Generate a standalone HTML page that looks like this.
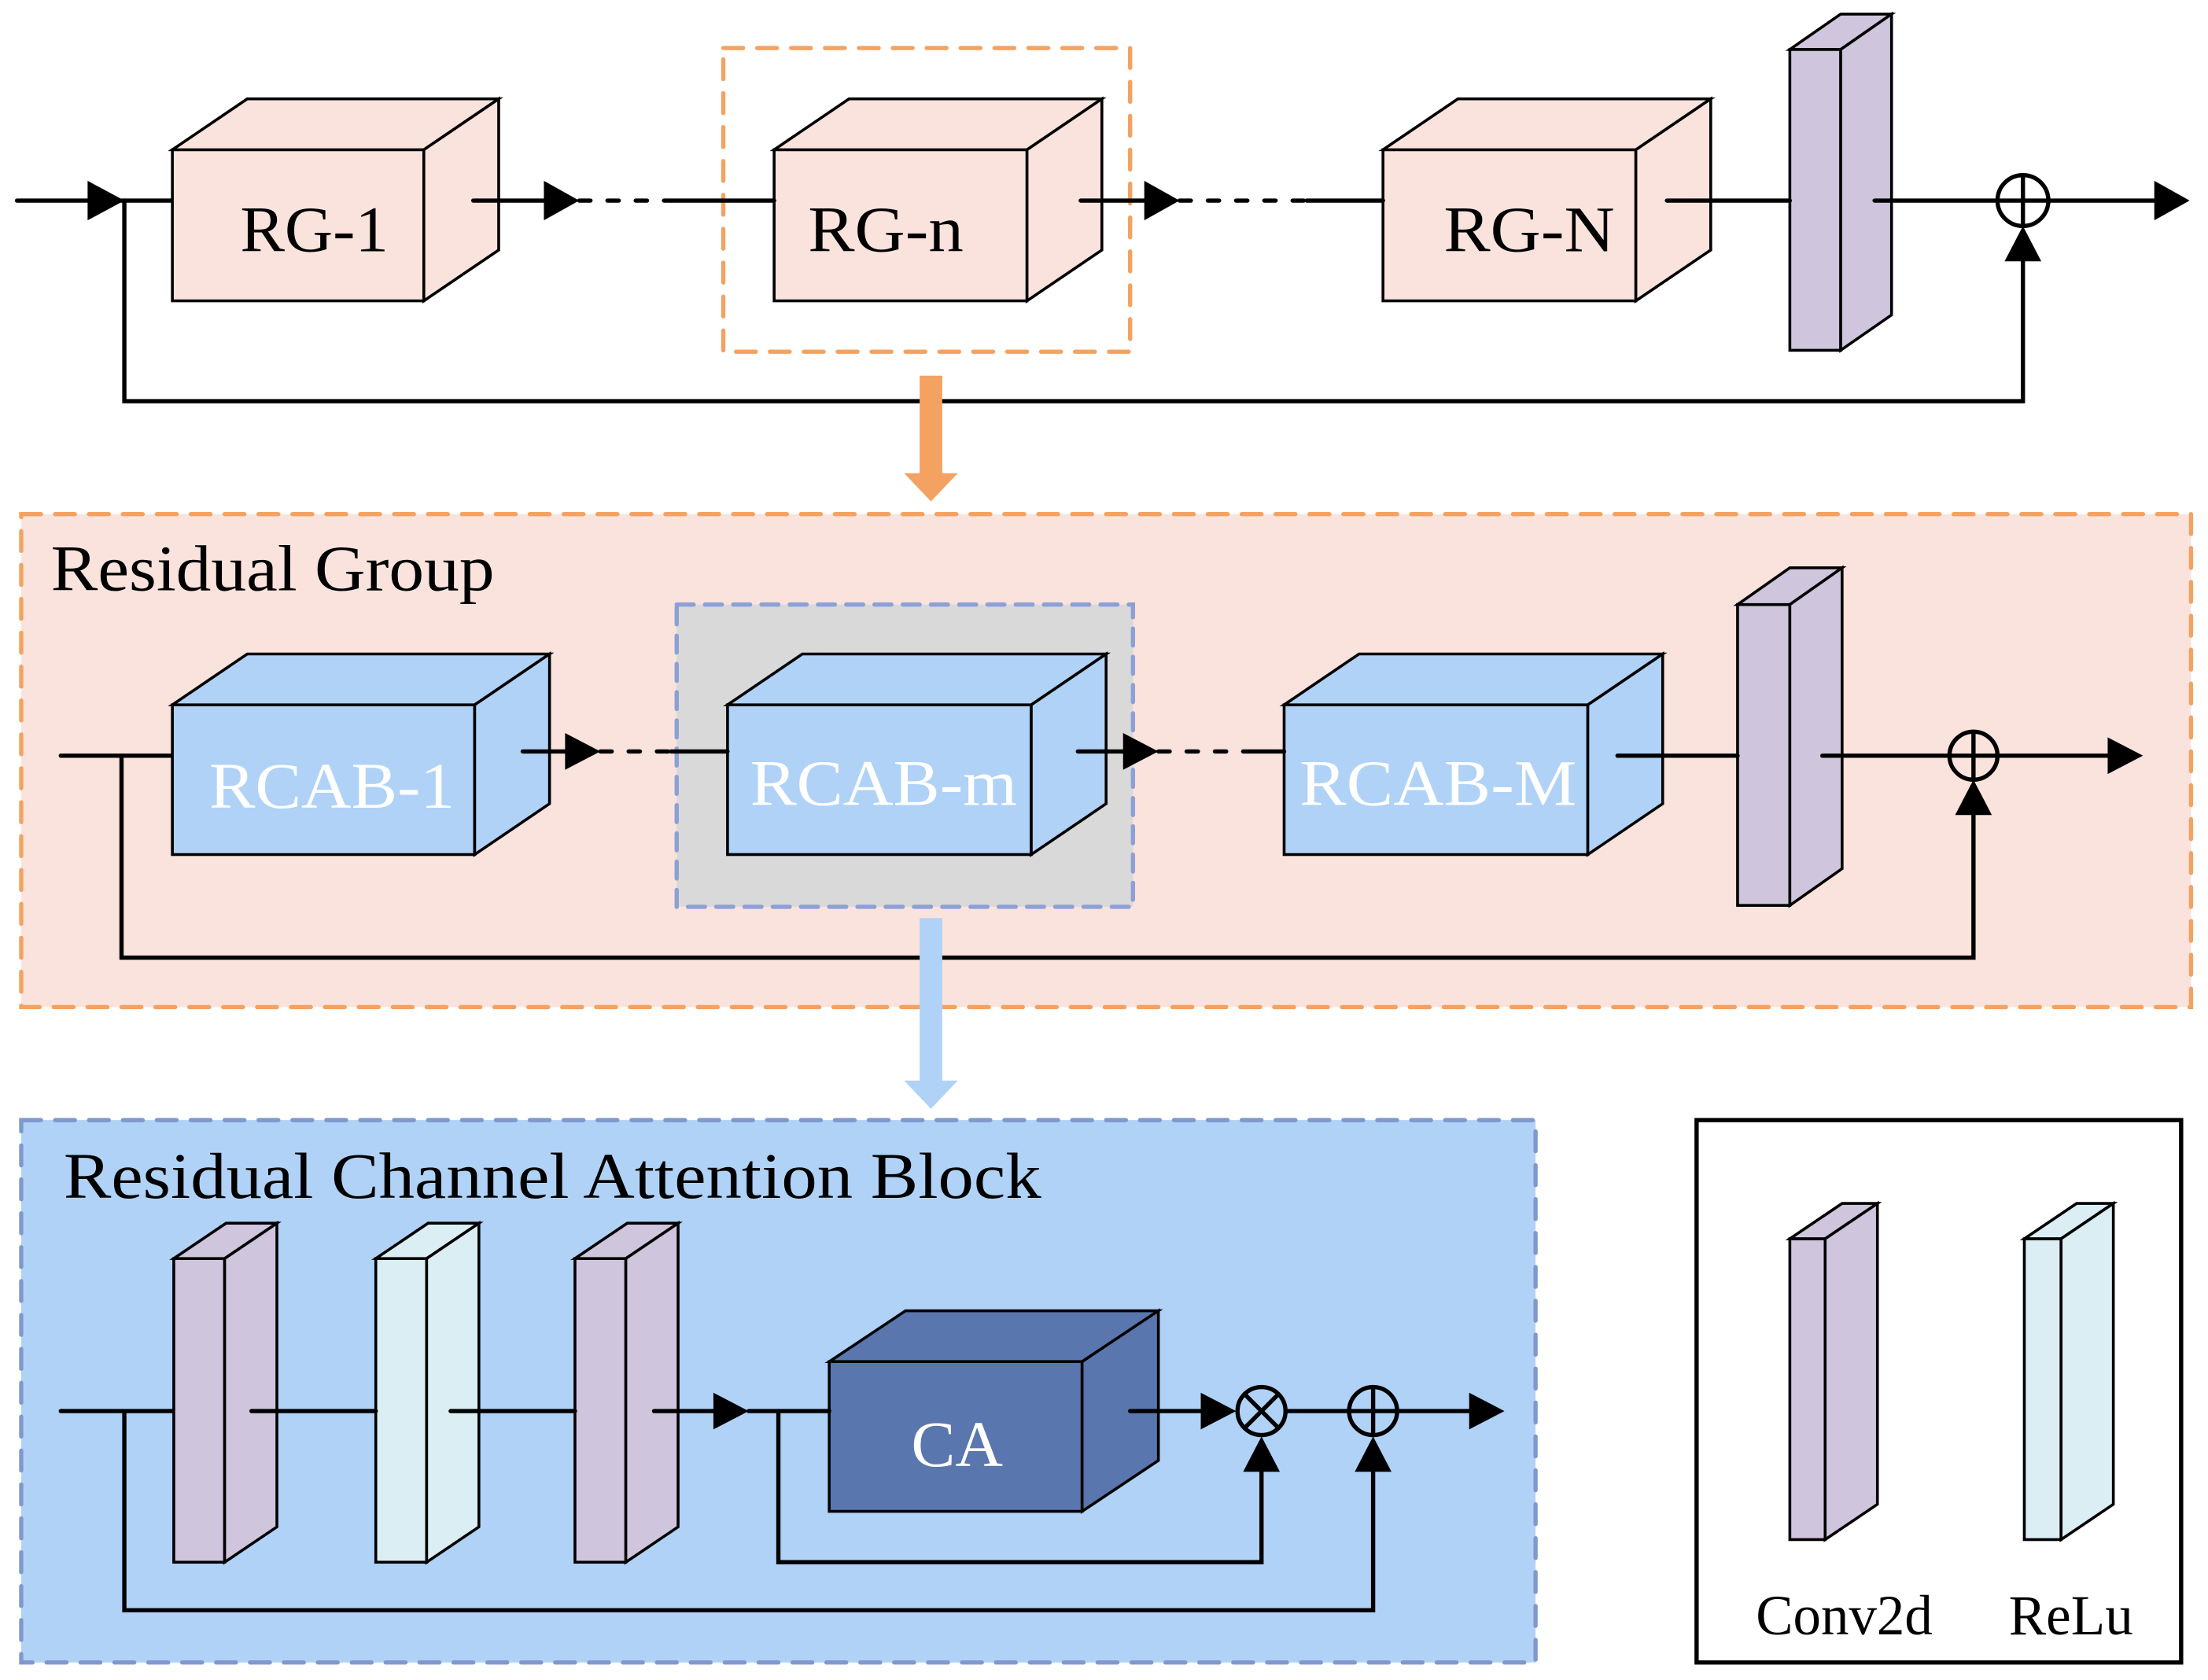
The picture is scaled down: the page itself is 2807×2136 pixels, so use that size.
<!DOCTYPE html>
<html><head><meta charset="utf-8"><style>html,body{margin:0;padding:0;background:#fff}svg{display:block}</style></head>
<body>
<svg width="2807" height="2136" viewBox="0 0 1563 1189.4" xmlns="http://www.w3.org/2000/svg" font-family="Liberation Serif, serif">
<g stroke="#000" stroke-width="3" fill="none" stroke-linecap="round">
<line x1="12" y1="142" x2="88" y2="142"/>
<polygon points="62,128 88,142 62,156" fill="#000" stroke="none"/>
<line x1="88" y1="142" x2="122" y2="142"/>
<polyline points="88,142 88,284 1432,284 1432,185"/>
<polygon points="1419,185 1432,160 1445,185" fill="#000" stroke="none"/>
</g>
<rect x="512" y="34" width="288" height="215" fill="none" stroke="#f4a261" stroke-width="3" stroke-dasharray="14,10" stroke-linecap="round"/>
<g stroke="#000" stroke-width="2">
<g fill="#fae3dc">
<rect x="122" y="106" width="178" height="107"/><polygon points="122,106 175,70 353,70 300,106"/><polygon points="300,106 353,70 353,177 300,213"/>
<rect x="548" y="106" width="179" height="107"/><polygon points="548,106 601,70 780,70 727,106"/><polygon points="727,106 780,70 780,177 727,213"/>
<rect x="979" y="106" width="179" height="107"/><polygon points="979,106 1032,70 1211,70 1158,106"/><polygon points="1158,106 1211,70 1211,177 1158,213"/>
</g>
<g fill="#cfc5dc">
<rect x="1267" y="35" width="36" height="213"/><polygon points="1267,35 1303,10 1339,10 1303,35"/><polygon points="1303,35 1339,10 1339,223 1303,248"/>
</g>
</g>
<g font-size="46" lengthAdjust="spacingAndGlyphs">
<text x="170" y="178" textLength="105" lengthAdjust="spacingAndGlyphs">RG-1</text>
<text x="572" y="178" textLength="110" lengthAdjust="spacingAndGlyphs">RG-n</text>
<text x="1022" y="178" textLength="121" lengthAdjust="spacingAndGlyphs">RG-N</text>
</g>
<g stroke="#000" stroke-width="3" fill="none" stroke-linecap="round">
<line x1="335" y1="142" x2="385" y2="142"/><polygon points="385,128 410,142 385,156" fill="#000" stroke="none"/>
<line x1="410" y1="142" x2="475" y2="142" stroke-dasharray="8,12"/>
<line x1="475" y1="142" x2="548" y2="142"/>
<line x1="765" y1="142" x2="810" y2="142"/><polygon points="810,128 835,142 810,156" fill="#000" stroke="none"/>
<line x1="835" y1="142" x2="925" y2="142" stroke-dasharray="8,12"/>
<line x1="925" y1="142" x2="979" y2="142"/>
<line x1="1180" y1="142" x2="1267" y2="142"/>
<line x1="1327" y1="142" x2="1414" y2="142"/>
<circle cx="1432" cy="142" r="18"/><line x1="1432" y1="124" x2="1432" y2="160"/><line x1="1414" y1="142" x2="1450" y2="142"/>
<line x1="1450" y1="142" x2="1530" y2="142"/><polygon points="1525,128 1550,142 1525,156" fill="#000" stroke="none"/>
</g>
<rect x="651" y="266" width="16" height="70" fill="#f4a261"/><polygon points="640,335 678,335 659,355" fill="#f4a261"/>
<rect x="15" y="364" width="1536" height="349" fill="#fae3dc" stroke="#f4a261" stroke-width="3" stroke-dasharray="14,10" stroke-linecap="round"/>
<text x="36" y="418" font-size="46" textLength="314" lengthAdjust="spacingAndGlyphs">Residual Group</text>
<rect x="479" y="428" width="323" height="214" fill="#d9d9d9" stroke="#8ca0d8" stroke-width="3" stroke-dasharray="12,8" stroke-linecap="round"/>
<g stroke="#000" stroke-width="3" fill="none" stroke-linecap="round">
<line x1="43" y1="535" x2="122" y2="535"/>
<polyline points="86,535 86,678 1397,678 1397,577"/>
<polygon points="1384,577 1397,552 1410,577" fill="#000" stroke="none"/>
</g>
<g stroke="#000" stroke-width="2">
<g fill="#b0d2f7">
<rect x="122" y="499" width="214" height="106"/><polygon points="122,499 175,463 389,463 336,499"/><polygon points="336,499 389,463 389,569 336,605"/>
<rect x="515" y="499" width="215" height="106"/><polygon points="515,499 568,463 783,463 730,499"/><polygon points="730,499 783,463 783,569 730,605"/>
<rect x="909" y="499" width="215" height="106"/><polygon points="909,499 962,463 1177,463 1124,499"/><polygon points="1124,499 1177,463 1177,569 1124,605"/>
</g>
<g fill="#cfc5dc">
<rect x="1230" y="428" width="37" height="213"/><polygon points="1230,428 1267,402 1304,402 1267,428"/><polygon points="1267,428 1304,402 1304,615 1267,641"/>
</g>
</g>
<g font-size="46" fill="#fff">
<text x="148" y="572" textLength="174" lengthAdjust="spacingAndGlyphs">RCAB-1</text>
<text x="531" y="570" textLength="189" lengthAdjust="spacingAndGlyphs">RCAB-m</text>
<text x="920" y="570" textLength="196" lengthAdjust="spacingAndGlyphs">RCAB-M</text>
</g>
<g stroke="#000" stroke-width="3" fill="none" stroke-linecap="round">
<line x1="370" y1="532" x2="400" y2="532"/><polygon points="400,519 425,532 400,545" fill="#000" stroke="none"/>
<line x1="425" y1="532" x2="475" y2="532" stroke-dasharray="8,12"/>
<line x1="475" y1="532" x2="515" y2="532"/>
<line x1="763" y1="532" x2="795" y2="532"/><polygon points="795,519 820,532 795,545" fill="#000" stroke="none"/>
<line x1="820" y1="532" x2="880" y2="532" stroke-dasharray="8,12"/>
<line x1="880" y1="532" x2="909" y2="532"/>
<line x1="1145" y1="535" x2="1230" y2="535"/>
<line x1="1290" y1="535" x2="1380" y2="535"/>
<circle cx="1397" cy="535" r="17"/><line x1="1397" y1="518" x2="1397" y2="552"/><line x1="1380" y1="535" x2="1414" y2="535"/>
<line x1="1414" y1="535" x2="1495" y2="535"/><polygon points="1492,522 1517,535 1492,548" fill="#000" stroke="none"/>
</g>
<rect x="651" y="650" width="16" height="116" fill="#b0d2f7"/><polygon points="640,765 678,765 659,785" fill="#b0d2f7"/>
<rect x="15" y="793" width="1072" height="384" fill="#b0d2f7" stroke="#8099cc" stroke-width="3" stroke-dasharray="14,10" stroke-linecap="round"/>
<text x="45" y="848" font-size="46" textLength="692" lengthAdjust="spacingAndGlyphs">Residual Channel Attention Block</text>
<g stroke="#000" stroke-width="3" fill="none" stroke-linecap="round">
<line x1="43" y1="999" x2="123" y2="999"/>
<polyline points="88,999 88,1140 972,1140 972,1042"/>
<polygon points="959,1042 972,1017 985,1042" fill="#000" stroke="none"/>
<polyline points="551,999 551,1106 893,1106 893,1042"/>
<polygon points="880,1042 893,1017 906,1042" fill="#000" stroke="none"/>
</g>
<g stroke="#000" stroke-width="2">
<g fill="#cfc5dc">
<rect x="123" y="891" width="36" height="215"/><polygon points="123,891 160,866 196,866 159,891"/><polygon points="159,891 196,866 196,1081 159,1106"/>
<rect x="407" y="891" width="36" height="215"/><polygon points="407,891 444,866 480,866 443,891"/><polygon points="443,891 480,866 480,1081 443,1106"/>
</g>
<g fill="#daeef3">
<rect x="266" y="891" width="36" height="215"/><polygon points="266,891 303,866 339,866 302,891"/><polygon points="302,891 339,866 339,1081 302,1106"/>
</g>
<g fill="#5a76ae">
<rect x="587" y="964" width="179" height="106"/><polygon points="587,964 641,928 820,928 766,964"/><polygon points="766,964 820,928 820,1034 766,1070"/>
</g>
</g>
<text x="645" y="1038" font-size="46" fill="#fff" textLength="65" lengthAdjust="spacingAndGlyphs">CA</text>
<g stroke="#000" stroke-width="3" fill="none" stroke-linecap="round">
<line x1="178" y1="999" x2="266" y2="999"/>
<line x1="319" y1="999" x2="407" y2="999"/>
<line x1="463" y1="999" x2="505" y2="999"/><polygon points="505,986 530,999 505,1012" fill="#000" stroke="none"/>
<line x1="530" y1="999" x2="587" y2="999"/>
<line x1="800" y1="999" x2="850" y2="999"/><polygon points="850,986 875,999 850,1012" fill="#000" stroke="none"/>
<circle cx="893" cy="999" r="17"/><line x1="881" y1="987" x2="905" y2="1011"/><line x1="905" y1="987" x2="881" y2="1011"/>
<line x1="910" y1="999" x2="955" y2="999"/>
<circle cx="972" cy="999" r="17"/><line x1="972" y1="982" x2="972" y2="1016"/><line x1="955" y1="999" x2="989" y2="999"/>
<line x1="989" y1="999" x2="1042" y2="999"/><polygon points="1040,986 1065,999 1040,1012" fill="#000" stroke="none"/>
</g>
<rect x="1201" y="793" width="343" height="384" fill="#fff" stroke="#000" stroke-width="3"/>
<g stroke="#000" stroke-width="2">
<rect x="1267" y="877" width="25" height="213" fill="#cfc5dc"/><polygon points="1267,877 1304,852 1329,852 1292,877" fill="#cfc5dc"/><polygon points="1292,877 1329,852 1329,1065 1292,1090" fill="#cfc5dc"/>
<rect x="1433" y="877" width="26" height="213" fill="#daeef3"/><polygon points="1433,877 1470,852 1496,852 1459,877" fill="#daeef3"/><polygon points="1459,877 1496,852 1496,1065 1459,1090" fill="#daeef3"/>
</g>
<g font-size="40">
<text x="1243" y="1157" textLength="125" lengthAdjust="spacingAndGlyphs">Conv2d</text>
<text x="1422" y="1157" textLength="88" lengthAdjust="spacingAndGlyphs">ReLu</text>
</g>
</svg>
</body></html>
